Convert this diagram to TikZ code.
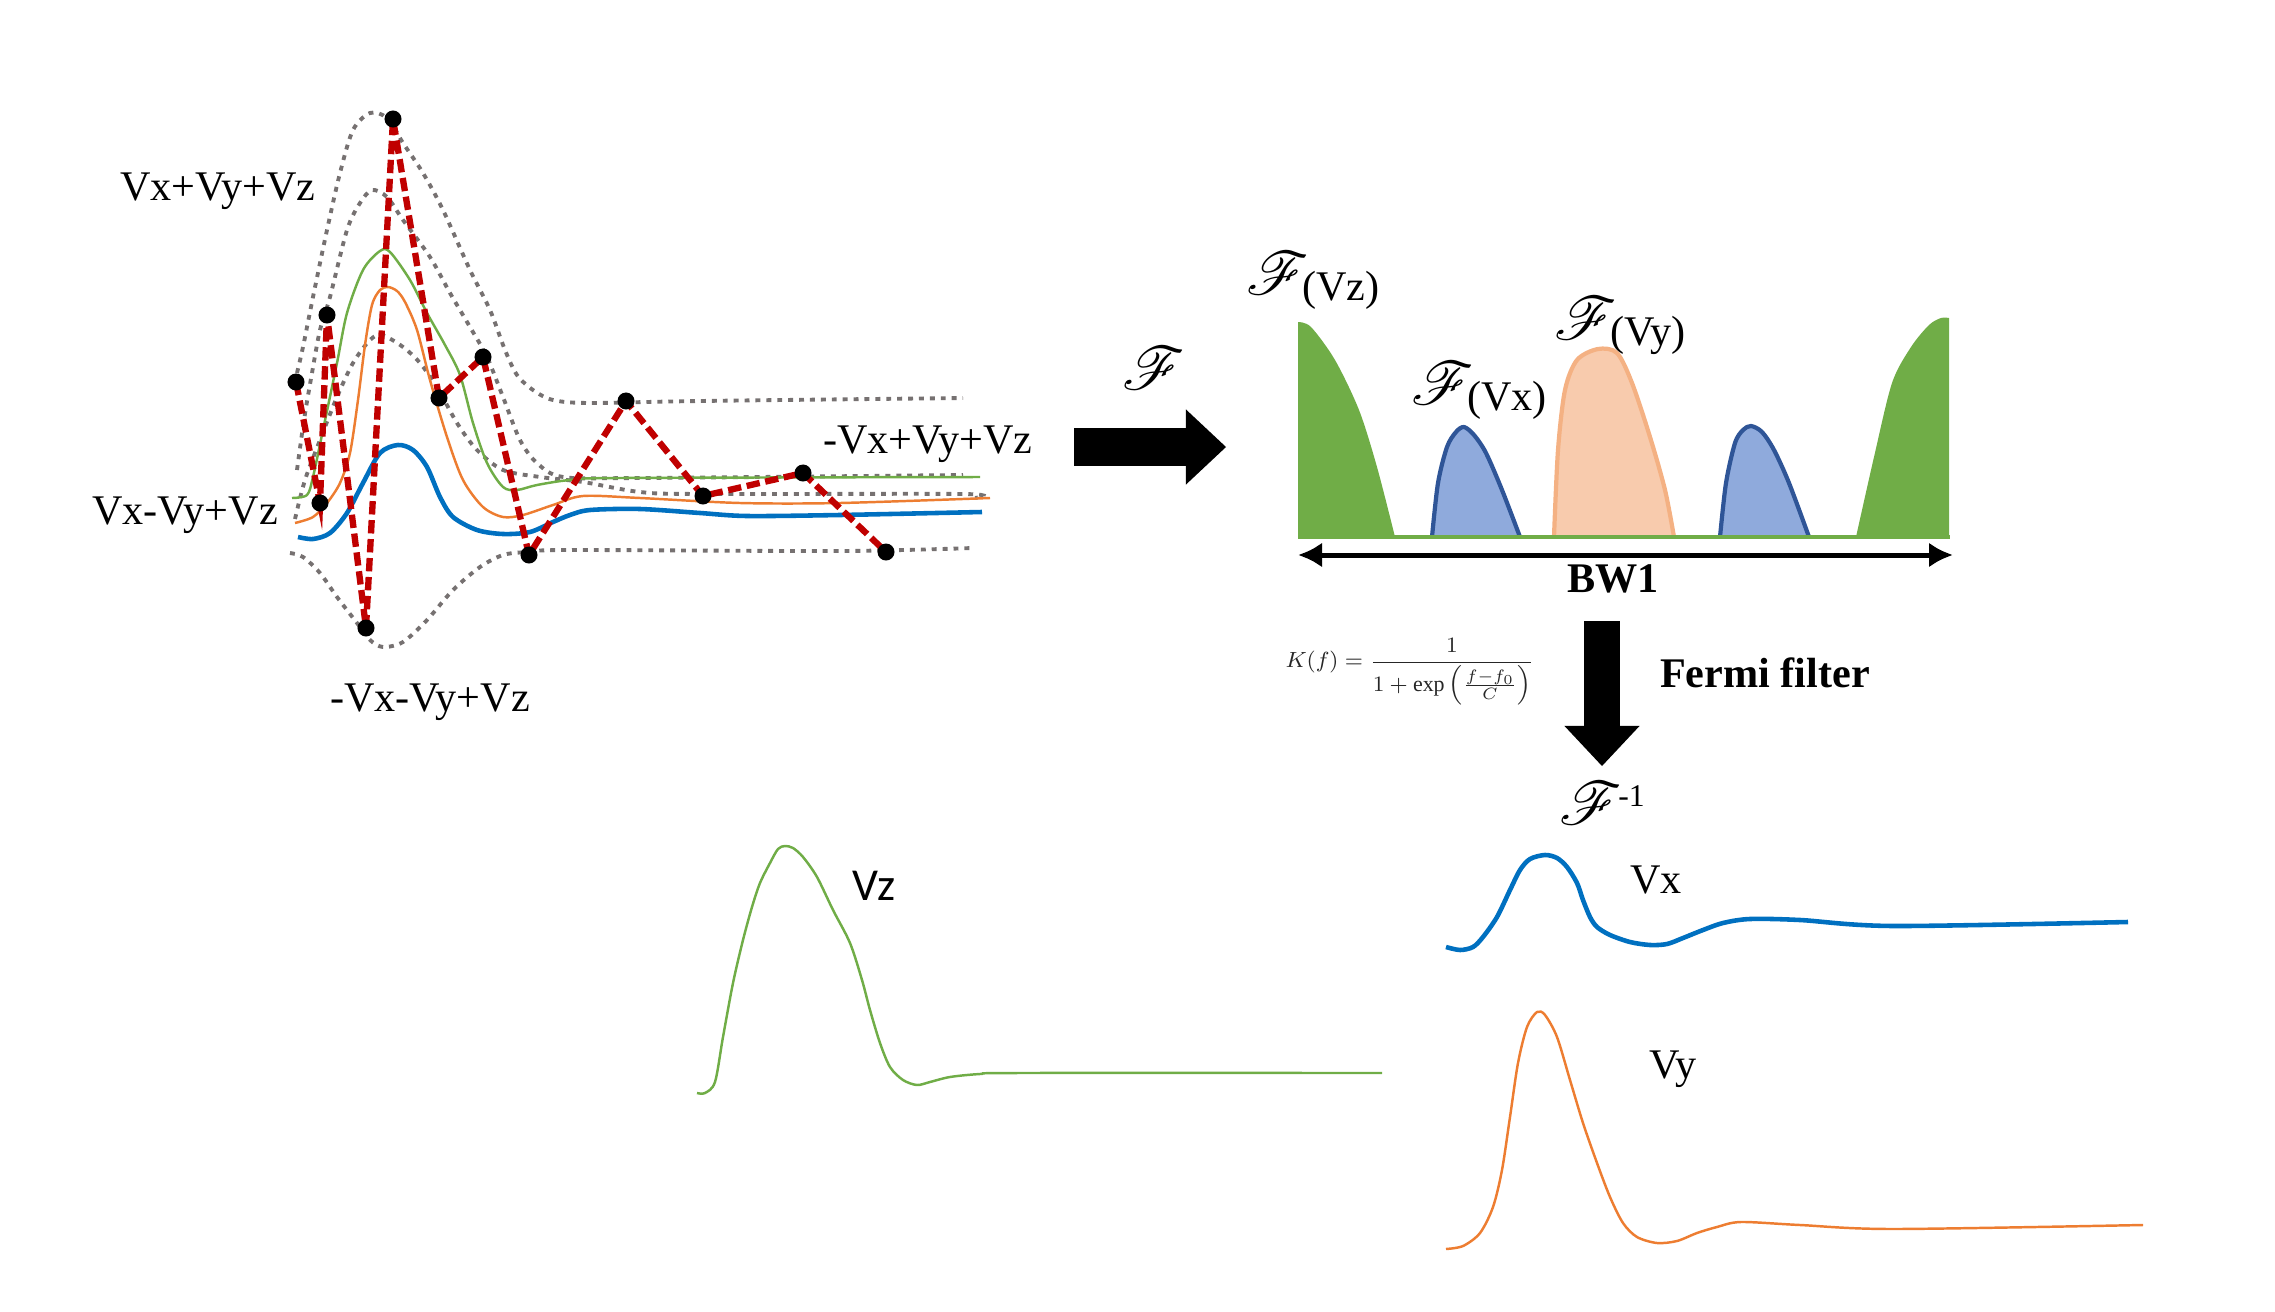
\documentclass[tikz,border=0pt]{standalone}
\usepackage{amsmath}
\usepackage{mathrsfs}
\usepackage{fontspec}
\setmainfont{Liberation Serif}
\newfontfamily\labelfont{Carlito}
\usetikzlibrary{arrows.meta}
\tikzset{>={Latex[width=2.5mm,length=2.4mm]}}
\definecolor{sigred}{HTML}{C00000}
\definecolor{siggreen}{HTML}{70AD47}
\definecolor{sigorange}{HTML}{ED7D31}
\definecolor{sigblue}{HTML}{0070C0}
\definecolor{lobeblue}{HTML}{8FAADC}
\definecolor{lobeedge}{HTML}{2F5597}
\definecolor{lobepeach}{HTML}{F8CBAD}
\definecolor{peachedge}{HTML}{F4B183}
\definecolor{envgray}{HTML}{767171}
\newcommand{\fourier}{{\fontsize{19}{20}\selectfont$\mathscr{F}$}}

\begin{document}
\begin{tikzpicture}[
    x = 0.01cm, y = -0.01cm,
    envelope/.style = {envgray, line width=1.1pt, dash pattern=on 1.4pt off 1.7pt},
    thinsig/.style = {line width=0.7pt},
    thicksig/.style = {sigblue, line width=1.3pt},
    pathline/.style = {sigred, line width=1.8pt, dash pattern=on 3.8pt off 1.6pt},
    lbl/.style = {font=\fontsize{12}{14}\selectfont, anchor=base, inner sep=0pt},
    sans/.style = {font=\labelfont\fontsize{13}{15}\selectfont, anchor=base, inner sep=0pt},
    lobe/.style = {line width=1.2pt, line join=round},
    fat/.style = {line width=0.37cm,
        -{Triangle[length=0.40cm, width=0.75cm, line width=0pt]}}
  ]
  \useasboundingbox (0,0) rectangle (2275,1312);

  % projections on the four axes
  \draw[envelope] plot[smooth] coordinates {(297,373) (303,347) (313,297) (327,230)
    (340,173) (353,130) (370,113) (387,118) (403,143) (423,173) (443,210) (470,270)
    (490,310) (505,350) (517,375) (533,390) (553,400) (590,403) (700,401) (963,398)};
  \draw[envelope] plot[smooth] coordinates {(297,470) (304,420) (312,373) (320,330)
    (330,297) (347,230) (360,203) (372,190) (387,197) (403,220) (430,257) (450,293)
    (470,327) (487,357) (503,397) (520,440) (537,463) (563,477) (640,478) (963,475)};
  \draw[envelope] plot[smooth] coordinates {(295,519) (305,480) (320,440) (337,397)
    (353,363) (370,340) (382,335) (403,347) (420,363) (437,387) (457,423) (477,450)
    (503,470) (540,477) (583,482) (640,492) (700,494) (963,494) (975,498)};
  \draw[envelope] plot[smooth] coordinates {(290,553) (303,557) (320,573) (337,597)
    (357,623) (370,640) (383,647) (403,642) (427,620) (453,590) (480,567) (503,555)
    (527,552) (570,550) (840,551) (973,548)};

  \draw[thinsig, siggreen] plot[smooth] coordinates {(292,498) (307,495) (313,477)
    (323,430) (337,363) (347,313) (363,270) (380,251) (390,252) (410,280) (427,313)
    (445,345) (460,375) (473,423) (487,463) (503,487) (517,490) (537,485) (570,480)
    (620,478) (980,477)};
  \draw[thinsig, sigorange] plot[smooth] coordinates {(295,523) (313,517) (327,503)
    (340,483) (350,453) (358,400) (365,345) (372,305) (380,290) (388,287) (397,291)
    (405,302) (417,330) (430,380) (447,437) (463,480) (483,507) (503,517) (523,515)
    (553,505) (583,496) (640,498) (740,503) (840,503) (990,498)};
  \draw[thicksig] plot[smooth] coordinates {(298,537) (313,539) (330,533) (347,513)
    (363,483) (380,453) (398,445) (413,450) (427,467) (440,497) (453,517) (477,530)
    (503,534) (530,532) (553,522) (570,515) (590,510) (640,509) (700,513) (747,516)
    (840,515) (982,512)};

  % sampled points
  \foreach \px/\py [count=\i] in {296/382, 320/503, 327/315, 366/628, 393/119,
      439/398, 483/357, 529/555, 626/401, 703/496, 803/473, 886/552}
    \coordinate (P\i) at (\px,\py);
  \draw[pathline] (P1) \foreach \i in {2,...,12} { -- (P\i) };
  \foreach \i in {1,...,12}
    \fill (P\i) circle [radius=0.085cm];

  \node[lbl] (PPP) at (218,200) {Vx+Vy+Vz};
  \node[lbl] (PMP) at (185,524) {Vx-Vy+Vz};
  \node[lbl] (MMP) at (430,711) {-Vx-Vy+Vz};
  \node[lbl] (MPP) at (928,453) {-Vx+Vy+Vz};

  % Fourier transform
  \coordinate (FTA) at (1074,447);
  \coordinate (FTB) at (1226,447);
  \draw[fat] (FTA) -- (FTB);
  \node (FT) at (1154,368) {\fourier};

  % spectrum
  \fill[siggreen] plot[smooth] coordinates {(1298,322) (1311,327) (1335,360)
    (1359,410) (1377,467) (1395,537)} -- (1298,537) -- cycle;
  \fill[siggreen] plot[smooth] coordinates {(1856,537) (1874,457) (1892,383)
    (1911,347) (1929,325) (1941,318) (1949,318)} -- (1949,537) -- cycle;
  \filldraw[lobe, fill=lobeblue, draw=lobeedge] plot[smooth] coordinates {(1432,537)
    (1438,483) (1447,447) (1456,432) (1464,427) (1474,435) (1486,453) (1502,490)
    (1520,537)};
  \filldraw[lobe, fill=lobepeach, draw=peachedge] plot[smooth] coordinates {(1554,537)
    (1558,450) (1565,390) (1577,360) (1598,349) (1617,353) (1632,383) (1650,437)
    (1665,490) (1674,537)};
  \filldraw[lobe, fill=lobeblue, draw=lobeedge] plot[smooth] coordinates {(1720,537)
    (1726,483) (1735,443) (1743,430) (1751,426) (1762,432) (1774,450) (1789,483)
    (1809,537)};
  \draw[siggreen, line width=0.04cm] (1298,537) -- (1950,537);

  \node[lbl] (FVZ) at (1313,300) {\raisebox{1.5pt}{\fourier}\kern-2pt(Vz)};
  \node[lbl] (FVX) at (1479,410) {\raisebox{1.5pt}{\fourier}\kern-2pt(Vx)};
  \node[lbl] (FVY) at (1620,345) {\raisebox{1.5pt}{\fourier}\kern-2pt(Vy)};

  \coordinate (BWL) at (1298,555);
  \coordinate (BWR) at (1953,555);
  \draw[<->, line width=0.05cm] (BWL) -- (BWR);
  \node[lbl, font=\fontsize{12}{14}\selectfont\bfseries] (BW) at (1613,592) {BW1};

  % filter and inverse transform
  \coordinate (FLA) at (1602,621);
  \coordinate (FLB) at (1602,766);
  \draw[fat, line width=0.36cm] (FLA) -- (FLB);
  \node[font=\footnotesize, text=black!85, inner sep=0pt] (KF) at (1410,672)
    {\scalebox{0.78}{$K(f)=\dfrac{1}{1+\exp\left(\frac{f-f_0}{C}\right)}$}};
  \node[lbl, font=\fontsize{12}{14}\selectfont\bfseries] (FERMI) at (1765,687) {Fermi filter};
  \node (FINV) at (1602,803)
    {\fourier\kern-1pt\raisebox{5pt}{\fontsize{9}{10}\selectfont -1}};

  % recovered components
  \draw[thinsig, siggreen] plot[smooth] coordinates {(697,1093) (705,1093) (715,1082)
    (723,1037) (733,983) (743,940) (752,907) (760,883) (770,863) (778,849) (785,846)
    (793,848) (803,857) (817,877) (833,910) (850,943) (862,980) (870,1010) (880,1043)
    (890,1067) (903,1080) (917,1085) (930,1082) (950,1077) (980,1074) (1020,1073)
    (1382,1073)};
  \draw[thicksig] plot[smooth] coordinates {(1446,947) (1460,950) (1473,947)
    (1483,937) (1497,917) (1510,890) (1520,870) (1530,859) (1545,855) (1557,858)
    (1567,867) (1577,883) (1583,900) (1590,917) (1597,927) (1610,935) (1630,942)
    (1650,945) (1667,944) (1683,938) (1703,930) (1723,923) (1750,919) (1800,920)
    (1894,926) (2128,922)};
  \draw[thinsig, sigorange] plot[smooth] coordinates {(1446,1249) (1463,1246)
    (1480,1233) (1493,1207) (1502,1170) (1510,1117) (1518,1063) (1527,1027)
    (1537,1012) (1545,1015) (1557,1037) (1570,1080) (1583,1123) (1597,1163)
    (1610,1197) (1623,1223) (1637,1237) (1657,1243) (1677,1241) (1697,1233)
    (1717,1227) (1741,1222) (1800,1225) (1894,1229) (2143,1225)};

  \node[sans] (VZ) at (874,900) {Vz};
  \node[lbl] (VX) at (1656,893) {Vx};
  \node[lbl] (VY) at (1673,1078) {Vy};
\end{tikzpicture}
\end{document}
